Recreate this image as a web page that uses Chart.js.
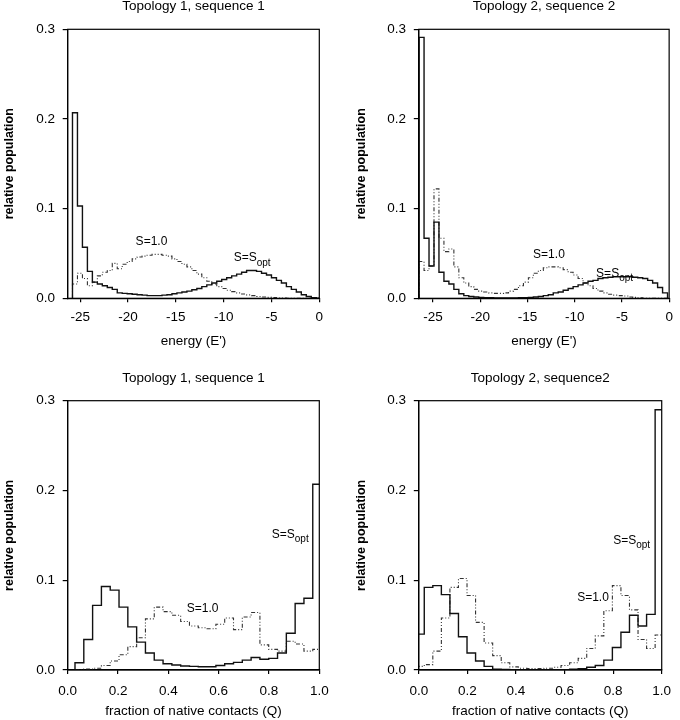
<!DOCTYPE html>
<html>
<head>
<meta charset="utf-8">
<script src="https://cdn.jsdelivr.net/npm/chart.js@4.4.1/dist/chart.umd.min.js"></script>
<style>
html,body{margin:0;padding:0;background:#fff;width:680px;height:720px;overflow:hidden;}
canvas{position:absolute;}
</style>
</head>
<body>
<canvas id="p1" width="340" height="360" style="left:0px;top:0px;width:340px;height:360px"></canvas>
<canvas id="p2" width="340" height="360" style="left:340px;top:0px;width:340px;height:360px"></canvas>
<canvas id="p3" width="340" height="360" style="left:0px;top:360px;width:340px;height:360px"></canvas>
<canvas id="p4" width="340" height="360" style="left:340px;top:360px;width:340px;height:360px"></canvas>
<script>
// ---------------- DATA ----------------
const panelTitles = ["Topology 1, sequence 1", "Topology 2, sequence 2", "Topology 1, sequence 1", "Topology 2, sequence2"];
const energyAxisTitle = "energy (E')";
const qAxisTitle = "fraction of native contacts (Q)";
const yAxisTitle = "relative population";
const labelSopt = "S=S";
const labelSoptSub = "opt";
const labelS10 = "S=1.0";

const yTickValues = [0, 0.1, 0.2, 0.3];
const energyTickValues = [-25, -20, -15, -10, -5, 0];
const qTickValues = [0, 0.2, 0.4, 0.6, 0.8, 1.0];

// Topology 1, sequence 1 : energy histogram (bin edges start / width)
const energyBinStart1 = -25.8;
const energyBinWidth1 = 0.52;
const energySopt1 = [0.207, 0.103, 0.057, 0.030, 0.018, 0.016, 0.014, 0.012, 0.010, 0.006,
  0.0055, 0.005, 0.0045, 0.004, 0.0035, 0.003, 0.003, 0.003, 0.0035, 0.004,
  0.005, 0.006, 0.007, 0.008, 0.0095, 0.011, 0.013, 0.015, 0.017, 0.019,
  0.021, 0.023, 0.025, 0.027, 0.029, 0.031, 0.031, 0.030, 0.028, 0.026,
  0.023, 0.020, 0.017, 0.013, 0.010, 0.007, 0.004, 0.002, 0.0008, 0.0002];
const energyS10_1 = [0.016, 0.028, 0.022, 0.014, 0.018, 0.025, 0.029, 0.031, 0.039, 0.033,
  0.038, 0.041, 0.044, 0.046, 0.047, 0.048, 0.049, 0.049, 0.048, 0.047,
  0.044, 0.041, 0.038, 0.035, 0.031, 0.027, 0.023, 0.019, 0.016, 0.013,
  0.011, 0.009, 0.0075, 0.006, 0.0048, 0.0038, 0.003, 0.002, 0.0015, 0.001,
  0.0007, 0.0004, 0.0002, 0, 0, 0, 0, 0, 0, 0];

// Topology 2, sequence 2 : energy histogram
const energyBinStart2 = -26.47;
const energyBinWidth2 = 0.526;
const energySopt2 = [0.291, 0.067, 0.036, 0.085, 0.029, 0.019, 0.016, 0.010, 0.005, 0.003,
  0.002, 0.0015, 0.001, 0.0008, 0.0006, 0.0005, 0.0005, 0.0005, 0.0005, 0.0005,
  0.0006, 0.0008, 0.001, 0.0015, 0.002, 0.003, 0.004, 0.006, 0.007, 0.009,
  0.011, 0.013, 0.015, 0.017, 0.019, 0.020, 0.022, 0.023, 0.0235, 0.024,
  0.024, 0.024, 0.024, 0.0235, 0.023, 0.022, 0.020, 0.017, 0.012, 0.006];
const energyS10_2 = [0.041, 0.031, 0.036, 0.122, 0.067, 0.052, 0.055, 0.035, 0.023, 0.017,
  0.013, 0.010, 0.008, 0.007, 0.006, 0.0055, 0.0055, 0.006, 0.008, 0.010,
  0.014, 0.018, 0.023, 0.028, 0.031, 0.034, 0.035, 0.035, 0.034, 0.032,
  0.029, 0.026, 0.022, 0.017, 0.014, 0.011, 0.008, 0.006, 0.0045, 0.0035,
  0.003, 0.0025, 0.0015, 0.001, 0.0005, 0, 0, 0, 0, 0];

// Topology 1, sequence 1 : Q histogram
const qBinStart1 = 0.029;
const qBinWidth1 = 0.035;
const qSopt1 = [0.008, 0.034, 0.072, 0.093, 0.089, 0.070, 0.048, 0.031, 0.019, 0.011,
  0.007, 0.0056, 0.0045, 0.004, 0.0037, 0.0037, 0.005, 0.007, 0.0085, 0.011,
  0.014, 0.012, 0.013, 0.019, 0.041, 0.074, 0.080, 0.207];
const qS10_1 = [0, 0.001, 0.002, 0.005, 0.010, 0.017, 0.026, 0.036, 0.057, 0.070,
  0.065, 0.061, 0.054, 0.049, 0.047, 0.046, 0.051, 0.058, 0.045, 0.059,
  0.064, 0.028, 0.023, 0.021, 0.032, 0.029, 0.021, 0.023];

// Topology 2, sequence 2 : Q histogram
const qBinStart2 = -0.0127;
const qBinWidth2 = 0.0352;
const qSopt2 = [0.040, 0.092, 0.094, 0.084, 0.063, 0.037, 0.019, 0.010, 0.004, 0.001,
  0.0005, 0.0003, 0.0002, 0.0002, 0.0002, 0.0002, 0.0003, 0.0004, 0.0008, 0.0015,
  0.003, 0.005, 0.011, 0.025, 0.042, 0.061, 0.049, 0.062, 0.290];
const qS10_2 = [0.004, 0.006, 0.021, 0.058, 0.092, 0.102, 0.083, 0.053, 0.030, 0.016,
  0.008, 0.0035, 0.002, 0.0015, 0.0015, 0.002, 0.003, 0.005, 0.008, 0.013,
  0.024, 0.038, 0.066, 0.094, 0.083, 0.067, 0.034, 0.024, 0.039];

// ---------------- RENDERING ----------------
const FONT = '"Liberation Sans", Arial, Helvetica, sans-serif';

function stepPoints(start, width, values) {
  const pts = [{x: start, y: 0}];
  values.forEach((v, i) => pts.push({x: +(start + i * width).toFixed(5), y: v}));
  pts.push({x: +(start + values.length * width).toFixed(5), y: 0});
  return pts;
}

const framePlugin = {
  id: 'frame',
  afterDatasetsDraw(chart) {
    const {ctx, chartArea: a} = chart;
    ctx.save();
    ctx.strokeStyle = '#000';
    ctx.lineWidth = 1.2;
    ctx.strokeRect(a.left, a.top, a.right - a.left, a.bottom - a.top);
    ctx.restore();
  }
};

const curveLabelPlugin = {
  id: 'curveLabels',
  afterDatasetsDraw(chart, args, opts) {
    const {ctx} = chart;
    const xs = chart.scales.x, ys = chart.scales.y;
    (opts.items || []).forEach(it => {
      const px = xs.getPixelForValue(it.x), py = ys.getPixelForValue(it.y);
      ctx.save();
      ctx.fillStyle = '#000';
      ctx.textAlign = 'left';
      ctx.textBaseline = 'middle';
      ctx.font = '12px ' + FONT;
      ctx.fillText(it.text, px, py);
      if (it.sub) {
        const w = ctx.measureText(it.text).width;
        ctx.font = '10px ' + FONT;
        ctx.fillText(it.sub, px + w, py + 5);
      }
      ctx.restore();
    });
  }
};

function makePanel(id, p) {
  const cv = document.getElementById(id);
  const tickFont = {family: FONT, size: 13.5};
  const titleLH = 13.5;
  const xtLH = 13.5 * 1.2;
  const ylLH = 15;
  const tickLH = 13.5 * 1.2;
  const tickLenX = 4, tickLenY = 5;
  const yAxisWidth = p.plotL - p.canvasL;
  const padRight = p.canvasL + p.canvasW - p.plotR;
  const titleBlock = p.plotT - p.canvasT;
  const xAxisHeight = p.canvasT + p.canvasH - p.plotB;
  const titlePadTop = p.titleCY - p.canvasT - titleLH / 2;
  const titlePadBottom = titleBlock - titleLH - titlePadTop;
  const yTitlePad = p.ylabelCX - p.canvasL - ylLH / 2;
  const yTickPad = p.plotL - tickLenY - p.ytickRight;
  const xTickPad = p.xtickCY - p.plotB - tickLenX - tickLH / 2;
  const xTitlePad = p.canvasT + p.canvasH - p.xtitleCY - xtLH / 2;

  return new Chart(cv, {
    type: 'line',
    data: {
      datasets: [
        {label: 'S=Sopt', data: stepPoints(p.binStart, p.binWidth, p.sopt), stepped: true,
          borderColor: '#111', borderWidth: 1.4, pointRadius: 0, fill: false},
        {label: 'S=1.0', data: stepPoints(p.binStart, p.binWidth, p.s10), stepped: true,
          borderColor: '#333', borderWidth: 1.1, borderDash: [4, 2, 1, 2, 1, 2], pointRadius: 0, fill: false}
      ]
    },
    options: {
      responsive: false,
      maintainAspectRatio: false,
      animation: false,
      devicePixelRatio: 1,
      events: [],
      layout: {padding: {left: 0, right: padRight, top: 0, bottom: 0}},
      plugins: {
        legend: {display: false},
        tooltip: {enabled: false},
        title: {display: true, text: p.title, color: '#000', fullSize: false,
          font: {family: FONT, size: 13.5, weight: 'normal', lineHeight: 1},
          padding: {top: titlePadTop, bottom: titlePadBottom}},
        curveLabels: {items: p.labels}
      },
      scales: {
        x: {
          type: 'linear', position: 'bottom', min: p.xmin, max: p.xmax,
          afterBuildTicks: s => { s.ticks = p.xticks.map(v => ({value: v})); },
          afterFit: s => { s.height = xAxisHeight; },
          ticks: {color: '#000', font: tickFont, padding: xTickPad, autoSkip: false, maxRotation: 0, minRotation: 0,
            callback: p.xfmt},
          grid: {display: true, drawOnChartArea: false, drawTicks: true, tickLength: tickLenX, color: '#000', lineWidth: 1.2},
          border: {display: true, color: '#000', width: 1.2},
          title: {display: true, text: p.xtitle, color: '#000', font: {family: FONT, size: 13.5}, padding: {top: 0, bottom: xTitlePad}}
        },
        y: {
          type: 'linear', position: 'left', min: 0, max: 0.3,
          afterBuildTicks: s => { s.ticks = yTickValues.map(v => ({value: v})); },
          afterFit: s => { s.width = yAxisWidth; },
          ticks: {color: '#000', font: tickFont, padding: yTickPad, autoSkip: false,
            callback: v => Number(v).toFixed(1)},
          grid: {display: true, drawOnChartArea: false, drawTicks: true, tickLength: tickLenY, color: '#000', lineWidth: 1.2},
          border: {display: true, color: '#000', width: 1.2},
          title: {display: true, text: yAxisTitle, color: '#000', font: {family: FONT, size: 12.5, weight: 'bold', lineHeight: 1.2},
            padding: {top: yTitlePad, bottom: 0}}
        }
      }
    },
    plugins: [framePlugin, curveLabelPlugin]
  });
}

const fmtEnergy = v => String(v);
const fmtQ = v => Number(v).toFixed(1);

makePanel('p1', {
  canvasL: 0, canvasT: 0, canvasW: 340, canvasH: 360,
  plotL: 67.7, plotT: 29.3, plotR: 319.3, plotB: 298.3,
  titleCY: 6.75, ylabelCX: 10, ytickRight: 55, xtickCY: 317, xtitleCY: 341.7,
  title: panelTitles[0], xtitle: energyAxisTitle, xmin: -26.3, xmax: 0, xticks: energyTickValues, xfmt: fmtEnergy,
  binStart: energyBinStart1, binWidth: energyBinWidth1, sopt: energySopt1, s10: energyS10_1,
  labels: [{text: labelS10, x: -19.2, y: 0.063}, {text: labelSopt, sub: labelSoptSub, x: -8.95, y: 0.045}]
});
makePanel('p2', {
  canvasL: 340, canvasT: 0, canvasW: 340, canvasH: 360,
  plotL: 418.8, plotT: 29.3, plotR: 670.8, plotB: 298.3,
  titleCY: 6.75, ylabelCX: 361.1, ytickRight: 406.1, xtickCY: 317.5, xtitleCY: 341.7,
  title: panelTitles[1], xtitle: energyAxisTitle, xmin: -26.5, xmax: 0, xticks: energyTickValues, xfmt: fmtEnergy,
  binStart: energyBinStart2, binWidth: energyBinWidth2, sopt: energySopt2, s10: energyS10_2,
  labels: [{text: labelS10, x: -14.4, y: 0.049}, {text: labelSopt, sub: labelSoptSub, x: -7.73, y: 0.0275}]
});
makePanel('p3', {
  canvasL: 0, canvasT: 360, canvasW: 340, canvasH: 360,
  plotL: 67.7, plotT: 400.7, plotR: 319.3, plotB: 670,
  titleCY: 378, ylabelCX: 10, ytickRight: 55, xtickCY: 691, xtitleCY: 711.7,
  title: panelTitles[2], xtitle: qAxisTitle, xmin: 0, xmax: 1, xticks: qTickValues, xfmt: fmtQ,
  binStart: qBinStart1, binWidth: qBinWidth1, sopt: qSopt1, s10: qS10_1,
  labels: [{text: labelS10, x: 0.473, y: 0.068}, {text: labelSopt, sub: labelSoptSub, x: 0.811, y: 0.151}]
});
makePanel('p4', {
  canvasL: 340, canvasT: 360, canvasW: 340, canvasH: 360,
  plotL: 418.8, plotT: 400.7, plotR: 670.8, plotB: 670,
  titleCY: 378, ylabelCX: 361.1, ytickRight: 406.1, xtickCY: 691, xtitleCY: 711.7,
  title: panelTitles[3], xtitle: qAxisTitle, xmin: 0, xmax: 1, xticks: qTickValues, xfmt: fmtQ,
  binStart: qBinStart2, binWidth: qBinWidth2, sopt: qSopt2, s10: qS10_2,
  labels: [{text: labelS10, x: 0.652, y: 0.081}, {text: labelSopt, sub: labelSoptSub, x: 0.80, y: 0.144}]
});
</script>
</body>
</html>
